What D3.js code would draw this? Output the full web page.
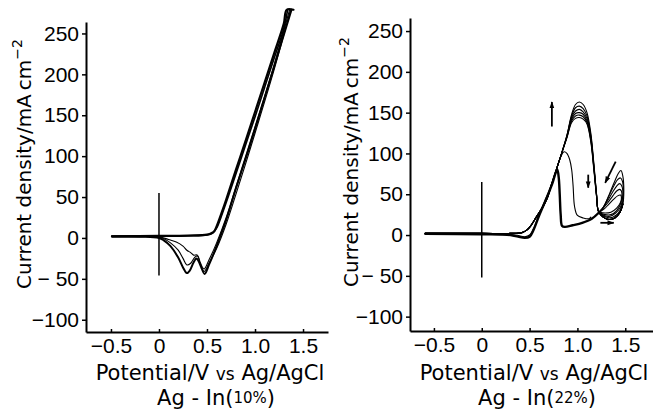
<!DOCTYPE html>
<html>
<head>
<meta charset="utf-8">
<script src="https://cdn.jsdelivr.net/npm/d3@7"></script>
<style>
  body { margin: 0; background: #fff; }
  svg { display: block; }
  .tick text { font-family: "Liberation Sans", Arial, sans-serif; font-size: 21px; fill: #000; }
  .title { font-family: "DejaVu Sans", sans-serif; font-size: 21px; fill: #000; }
</style>
</head>
<body>
<svg width="653" height="413"></svg>
<script>
// ---- data (V vs Ag/AgCl, mA cm^-2) ----
var xTicks = [-0.5, 0, 0.5, 1.0, 1.5];
var xTickLabels = ["\u22120.5", "0", "0.5", "1.0", "1.5"];
var yTicks = [-100, -50, 0, 50, 100, 150, 200, 250];

// Ag-In (10%)
var anodic10a = [[-0.49,2],[0,2.5],[0.3,3],[0.5,4],[0.55,6],[0.58,9],[0.6,14],[0.65,30],[0.7,47],[0.8,83],[0.9,118],[1.0,154],[1.1,190],[1.2,226],[1.3,262],[1.33,279],[1.4,279]];
var anodic10b = [[-0.49,1.5],[0,2],[0.3,2.5],[0.5,3.5],[0.56,6],[0.6,12],[0.66,30],[0.72,50],[0.8,78],[0.9,113],[1.0,148],[1.1,184],[1.2,220],[1.3,256],[1.34,279]];
var cathodic10 = [
  [[1.38,279],[1.2,210],[1.0,133],[0.9,96],[0.8,60],[0.7,22],[0.6,-10],[0.52,-33],[0.475,-44],[0.44,-36],[0.41,-28],[0.39,-25],[0.36,-30],[0.32,-40],[0.29,-43],[0.25,-36],[0.2,-24],[0.12,-10],[0.05,-3],[0,0],[-0.2,1.5],[-0.49,2]],
  [[1.37,279],[1.2,206],[1.0,128],[0.9,90],[0.8,53],[0.7,17],[0.6,-13],[0.52,-31],[0.47,-41],[0.43,-32],[0.40,-22],[0.37,-24],[0.33,-31],[0.29,-33],[0.25,-25],[0.2,-15],[0.12,-6],[0.05,-1],[0,1],[-0.49,2]],
  [[1.36,279],[1.2,212],[1.0,136],[0.9,99],[0.8,62],[0.7,25],[0.6,-6],[0.52,-27],[0.47,-38],[0.43,-30],[0.40,-21],[0.36,-21],[0.33,-18],[0.29,-15],[0.25,-10],[0.18,-5],[0.1,-2],[0,1.5],[-0.49,2]]
];

// Ag-In (22%)
var rise22 = [[-0.59,2],[0,2],[0.3,2],[0.42,3],[0.47,6],[0.51,11],[0.57,22],[0.63,33],[0.68,44],[0.73,62],[0.785,82],[0.84,102]];
var humps22 = [
  [[0.89,122],[0.94,148],[0.98,160],[1.02,163],[1.06,160],[1.10,150],[1.14,125],[1.17,90],[1.20,50],[1.22,29]],
  [[0.89,122],[0.94,146],[0.98,156],[1.02,158],[1.06,155],[1.10,146],[1.14,122],[1.17,88],[1.20,50],[1.22,29]],
  [[0.89,121],[0.94,144],[0.98,152],[1.02,154],[1.06,151],[1.10,143],[1.14,120],[1.17,86],[1.20,49],[1.22,29]],
  [[0.89,120],[0.94,142],[0.98,149],[1.02,150],[1.06,148],[1.10,140],[1.14,118],[1.17,85],[1.20,48],[1.22,29]],
  [[0.89,120],[0.94,140],[0.98,146],[1.02,147],[1.06,145],[1.10,138],[1.14,116],[1.17,84],[1.20,48],[1.22,29]],
  [[0.89,119],[0.94,138],[0.98,143],[1.02,144],[1.06,142],[1.10,136],[1.14,114],[1.17,82],[1.20,47],[1.22,29]]
];
var loops22 = [
  [[1.22,28],[1.27,22],[1.33,19],[1.39,21],[1.44,27],[1.475,38],[1.485,55],[1.475,72],[1.455,79],[1.43,76],[1.39,66],[1.34,52],[1.29,38],[1.25,30],[1.22,27]],
  [[1.22,28],[1.28,23],[1.34,21],[1.40,24],[1.45,31],[1.475,42],[1.48,56],[1.47,66],[1.45,70],[1.42,68],[1.38,60],[1.33,48],[1.28,36],[1.24,29]],
  [[1.22,28],[1.28,24],[1.34,23],[1.40,27],[1.45,34],[1.47,44],[1.475,54],[1.46,61],[1.44,63],[1.41,60],[1.37,53],[1.32,43],[1.27,34],[1.23,29]],
  [[1.22,28],[1.29,25],[1.35,25],[1.41,30],[1.45,38],[1.465,47],[1.46,54],[1.44,56],[1.41,54],[1.37,48],[1.32,40],[1.27,33],[1.23,29]],
  [[1.23,28],[1.29,27],[1.35,28],[1.41,33],[1.45,40],[1.46,46],[1.45,49],[1.42,48],[1.38,44],[1.33,38],[1.28,32],[1.24,29]]
];
var reverse22 = [[1.22,27],[1.15,20],[1.05,15],[0.95,12],[0.87,10],[0.84,11],[0.825,25],[0.815,50],[0.805,70],[0.79,80],[0.775,77],[0.74,64],[0.68,46],[0.6,24],[0.54,6],[0.5,-2],[0.45,-3.5],[0.38,-2],[0.3,0],[0,1],[-0.59,1.5]];
var reverse22b = [[1.14,22],[1.12,20],[1.06,21],[1.0,24],[0.97,35],[0.955,60],[0.94,80],[0.92,92],[0.89,100],[0.86,102],[0.83,97],[0.8,88],[0.77,76],[0.7,53],[0.62,31],[0.55,10],[0.5,0],[0.45,-2],[0.35,0],[0,1],[-0.59,1.5]];
var arrows22 = [
  {x1:0.733, y1:133, x2:0.733, y2:163},
  {x1:1.113, y1:74,  x2:1.113, y2:58},
  {x1:1.40,  y1:90,  x2:1.29,  y2:64},
  {x1:1.24,  y1:15,  x2:1.38,  y2:15}
];

var svg = d3.select("svg");

var defs = svg.append("defs");
defs.append("marker")
  .attr("id", "head")
  .attr("viewBox", "0 0 10 10")
  .attr("refX", 9).attr("refY", 5)
  .attr("markerWidth", 7).attr("markerHeight", 7)
  .attr("markerUnits", "userSpaceOnUse")
  .attr("orient", "auto")
  .append("path").attr("d", "M0,1.5L10,5L0,8.5Z").attr("fill", "#000");

function panel(o) {
  var x = d3.scaleLinear().domain(o.xDom).range(o.xRange);
  var y = d3.scaleLinear().domain(o.yDom).range(o.yRange);
  var g = svg.append("g");
  var line = d3.line().x(d => x(d[0])).y(d => y(d[1])).curve(d3.curveCatmullRom.alpha(0.5));

  // y axis
  var ya = g.append("g").attr("transform", "translate(" + o.xRange[0] + ",0)")
    .call(d3.axisLeft(y).tickValues(yTicks).tickSizeInner(4).tickSizeOuter(0).tickPadding(3)
      .tickFormat(d => d < 0 ? "\u2212" + (Math.abs(d) < 100 ? " " : "") + Math.abs(d) : d));
  ya.select(".domain").attr("stroke-width", 2);
  ya.selectAll(".tick line").attr("stroke-width", 1.5);

  // x axis
  var xa = g.append("g").attr("transform", "translate(0," + o.yRange[0] + ")")
    .call(d3.axisBottom(x).tickValues(xTicks).tickSizeInner(-3).tickSizeOuter(0).tickPadding(6)
      .tickFormat((d, i) => xTickLabels[i]));
  xa.select(".domain").attr("stroke-width", 2);
  xa.selectAll(".tick line").attr("stroke-width", 1.5);

  // vertical marker at 0 V
  g.append("line")
    .attr("x1", x(0)).attr("x2", x(0))
    .attr("y1", y(o.zeroLine[0])).attr("y2", y(o.zeroLine[1]))
    .attr("stroke", "#000").attr("stroke-width", 1.5);

  o.curves.forEach(function(c) {
    g.append("path").datum(c.data)
      .attr("d", line)
      .attr("fill", "none").attr("stroke", "#000")
      .attr("stroke-width", c.w).attr("stroke-linejoin", "round").attr("stroke-linecap", "round");
  });

  (o.arrows || []).forEach(function(a) {
    g.append("line")
      .attr("x1", x(a.x1)).attr("y1", y(a.y1)).attr("x2", x(a.x2)).attr("y2", y(a.y2))
      .attr("stroke", "#000").attr("stroke-width", 1.8)
      .attr("marker-end", "url(#head)");
  });

  // y title
  var yt = g.append("text").attr("class", "title")
    .attr("font-size", 20)
    .attr("transform", "translate(" + o.yTitleX + "," + o.yTitleY + ") rotate(-90)")
    .attr("text-anchor", "middle");
  yt.append("tspan").attr("font-size", 20).text("Current density/mA\u2009cm");
  yt.append("tspan").attr("dy", -9).attr("font-size", 14).text("\u22122");

  // x titles
  var t1 = g.append("text").attr("class", "title")
    .attr("x", o.xTitleX).attr("y", 380).attr("text-anchor", "middle");
  t1.append("tspan").text("Potential/V ");
  t1.append("tspan").attr("font-size", 17).text("vs");
  t1.append("tspan").text(" Ag/AgCl");

  var t2 = g.append("text").attr("class", "title")
    .attr("x", o.xTitle2X).attr("y", 405).attr("text-anchor", "middle");
  t2.append("tspan").text("Ag - In(");
  t2.append("tspan").attr("font-size", 15).attr("dy", -2).text(o.alloy);
  t2.append("tspan").attr("dy", 2).text(")");
}

var curves10 = [
  {data: anodic10a, w: 2.2},
  {data: anodic10b, w: 1.6}
].concat(cathodic10.map((c, i) => ({data: c, w: i === 0 ? 2 : 1.1})));

panel({
  xDom: [-0.76, 1.76], xRange: [86, 328],
  yDom: [-115, 264], yRange: [332, 22],
  zeroLine: [55, -46],
  curves: curves10,
  yTitleX: 31, yTitleY: 164,
  xTitleX: 210, xTitle2X: 216,
  alloy: "10%"
});

var curves22 = humps22.map(h => ({data: rise22.concat(h).concat(loops22[0].slice(1, 6)), w: 1.1}))
  .concat(loops22.map(l => ({data: l, w: 1.1})))
  .concat([{data: reverse22, w: 2.4}, {data: reverse22b, w: 1.1}]);

panel({
  xDom: [-0.75, 1.79], xRange: [410, 653],
  yDom: [-117.6, 266], yRange: [331, 18],
  zeroLine: [65, -52],
  curves: curves22,
  arrows: arrows22,
  yTitleX: 358, yTitleY: 162,
  xTitleX: 534, xTitle2X: 537,
  alloy: "22%"
});
</script>
</body>
</html>
